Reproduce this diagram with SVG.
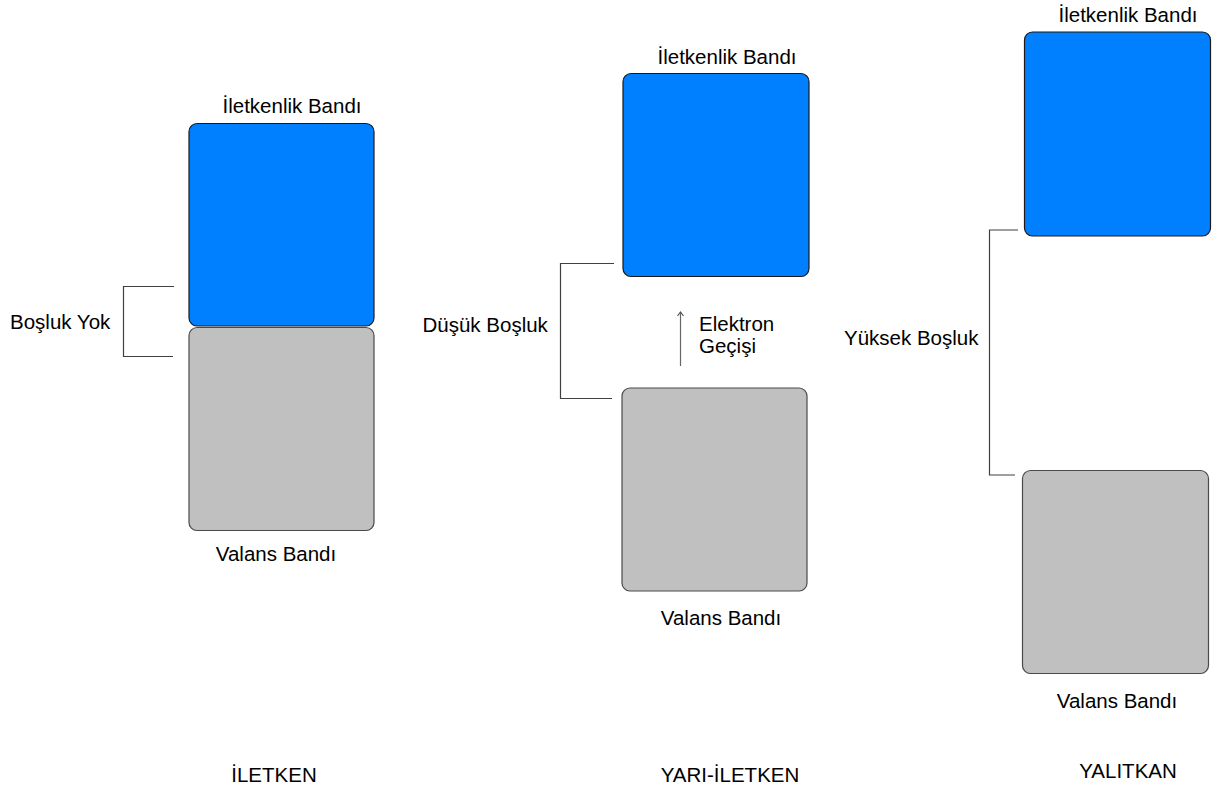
<svg xmlns="http://www.w3.org/2000/svg" width="1214" height="792" viewBox="0 0 1214 792">
<style>
text{font-family:"Liberation Sans",Arial,sans-serif;font-size:20.5px;fill:#000}
.cb{fill:#0080FF;stroke:#1a1a1a;stroke-width:1.2}
.vb{fill:#C0C0C0;stroke:#4a4a4a;stroke-width:1.2}
.br{fill:none;stroke:#404040;stroke-width:1.2}
.mid{text-anchor:middle}
</style>
<defs>
<marker id="ah" markerWidth="8" markerHeight="8" refX="4.5" refY="3.5" orient="auto" markerUnits="userSpaceOnUse">
<path d="M0.5,0.5 L4.5,3.5 L0.5,6.5" fill="none" stroke="#555" stroke-width="1.2"/>
</marker>
</defs>
<rect width="1214" height="792" fill="#fff"/>
<g id="iletken">
<g id="c1-cond"><rect class="cb" x="189" y="123.5" width="185" height="202.5" rx="8"/><text class="mid" x="292" y="113">İletkenlik Bandı</text></g>
<g id="c1-val"><rect class="vb" x="189" y="327.5" width="185" height="203" rx="8"/><text class="mid" x="276" y="561">Valans Bandı</text></g>
<text x="10" y="329">Boşluk Yok</text>
<text class="mid" x="274" y="782">İLETKEN</text>
</g>
<g id="yari-iletken">
<g id="c2-cond"><rect class="cb" x="623" y="73.5" width="186" height="203" rx="8"/><text class="mid" x="727" y="64">İletkenlik Bandı</text></g>
<g id="c2-val"><rect class="vb" x="622" y="388" width="185" height="203" rx="8"/><text class="mid" x="721" y="625">Valans Bandı</text></g>
<text x="422.5" y="332">Düşük Boşluk</text>
<text x="699" y="331">Elektron</text>
<text x="699" y="353">Geçişi</text>
<text class="mid" x="730" y="782">YARI-İLETKEN</text>
</g>
<g id="yalitkan">
<g id="c3-cond"><rect class="cb" x="1024.5" y="32" width="186" height="204" rx="8"/><text class="mid" x="1128" y="22">İletkenlik Bandı</text></g>
<g id="c3-val"><rect class="vb" x="1022.5" y="470.5" width="186" height="203" rx="8"/><text class="mid" x="1117" y="708">Valans Bandı</text></g>
<text x="844" y="345">Yüksek Boşluk</text>
<text class="mid" x="1128" y="778">YALITKAN</text>
</g>
<g id="connectors">
<path class="br" d="M174,286.5 H123.5 V356.5 H173"/>
<path class="br" d="M614,263.5 H560.5 V398.5 H612"/>
<path class="br" d="M1018,230 H989.5 V475 H1015"/>
<line x1="680.5" y1="366" x2="680.5" y2="312" stroke="#666" stroke-width="1.2" marker-end="url(#ah)"/>
</g>
</svg>
